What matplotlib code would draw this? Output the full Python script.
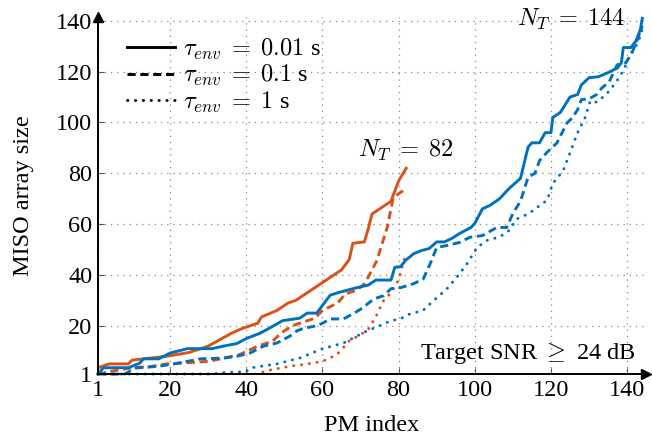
import matplotlib
matplotlib.use('Agg')
import matplotlib.pyplot as plt

plt.rcParams['font.family'] = ['Liberation Serif', 'DejaVu Serif']
plt.rcParams['mathtext.fontset'] = 'cm'
ORANGE = '#D95319'; BLUE = '#0072BD'
FS = 17.5

# ── data ──────────────────────────────────────────────────────
# N_T = 82 (orange)
o1_x = [1, 4, 9, 10, 13, 19, 25, 30, 36, 39, 43, 44, 48, 51, 53, 56, 59, 62, 65, 67, 68, 71, 72, 73, 78, 80, 82]
o1_y = [3.5, 5, 5, 6.5, 7, 8, 9.5, 12, 17, 19, 21, 23.5, 26, 29, 30, 33, 36, 39, 42, 46, 52.5, 53, 58, 64, 69, 77, 82]
o2_x = [1, 4, 10, 15, 19, 25, 30, 38, 43, 47, 49, 52, 58, 60, 64, 66, 69, 71, 72.5, 74.3, 77, 78.6, 81, 82]
o2_y = [1, 2, 3.5, 4, 5, 5.5, 6, 8.5, 12, 14, 17, 20, 23, 26, 29, 32.5, 34, 36.5, 40.5, 45.7, 58.7, 70.5, 73, 74.5]
o3_x = [1, 43, 45, 49, 52, 56, 60, 62, 64, 67, 70, 72, 74, 76, 78, 80, 82]
o3_y = [1, 1, 2.2, 3.4, 4.2, 5, 6, 7.3, 9, 14, 16.5, 18.5, 23.5, 29.8, 33, 38, 49]

# N_T = 144 (blue)
b1_x = [1, 2.5, 9, 12, 13, 17, 20, 24.5, 31, 34, 37.5, 40, 43.5, 46, 49.5, 54, 56, 58.5, 60, 62, 64, 66.5,
        69, 72, 74, 78, 79, 80.5, 82, 84, 86, 88, 90, 92, 94, 96, 99, 100, 102, 104, 106.5, 109, 112, 114,
        115, 117, 118.5, 120, 120.5, 122.5, 125, 127, 128, 130, 132.5, 135, 137.5, 138.5, 139, 141, 142.3, 143.5, 144]
b1_y = [1, 3.5, 3.5, 5.3, 7, 7, 9.3, 11, 11, 12, 13, 15, 17, 19, 22, 23, 25, 25, 28, 32, 33, 34,
        35, 36, 38, 38, 43, 43.3, 46, 48.4, 49.6, 50.4, 53, 53, 54.4, 56.3, 58.7, 60.3, 66, 67.4, 70, 74, 78, 90.3,
        92, 92, 96, 96, 102, 104, 110, 111, 114.8, 117.6, 118, 119.6, 121.5, 123.5, 129.5, 129.5, 132, 136.6, 141]
b2_x = [1, 8, 11, 16.5, 21, 28, 34, 37.5, 41, 44.5, 48, 51.5, 53.3, 55, 58.5, 60, 62, 65.5, 68, 70.5, 73.5,
        76, 78, 80.5, 84, 86.5, 88.3, 90, 92.7, 96, 98.7, 102, 105.8, 108.4, 110, 112, 114, 115.8, 117, 119,
        121.6, 124.2, 125.6, 127, 128, 130, 132, 133.4, 135.3, 137.4, 139.7, 141.3, 143, 144]
b2_y = [1, 1, 3.4, 4, 5, 7, 7.3, 8, 9.3, 12, 13.2, 16, 18, 19, 20, 21, 22.7, 22.7, 24.7, 27, 30.6,
        31.8, 34.6, 35, 36.6, 38.5, 44.5, 50.8, 51.6, 52.8, 54.8, 55.5, 58.7, 58.7, 64.2, 69, 78.5, 80, 85, 88.3,
        92, 99.8, 101.8, 105, 109, 109.3, 111, 113.6, 116, 122.7, 123.5, 127.5, 133.8, 138]
b3_x = [1, 31, 33, 40, 41, 48, 54, 60, 65.5, 71.7, 75, 78, 80.4, 83, 86.4, 88.3, 90, 92.7, 95.6, 98, 100.6,
        103.2, 106.6, 109, 111, 114, 119, 120.5, 123.2, 125, 127, 129, 130.3, 132, 134.5, 137, 139.2, 140.5,
        142.3, 143.5, 144]
b3_y = [1, 1, 1.5, 2, 3.4, 5, 7.3, 11, 13.2, 18, 20, 22, 22.7, 24.7, 26, 28.7, 31, 34.6, 39.7, 44.5, 50.8,
        53.6, 55, 57.5, 62, 64, 69.4, 76, 81, 88, 96, 102, 108.5, 108, 111, 115.6, 120.8, 126,
        130, 134, 137]

ticks = [1, 20, 40, 60, 80, 100, 120, 140]
tau_labels = [r'$\tau_{env}\;=\;0.01$ s', r'$\tau_{env}\;=\;0.1$ s', r'$\tau_{env}\;=\;1$ s']

SOLID = '-'; DASH = (0, (2.8, 1.6)); DOT = (0, (0.1, 2.6))
LW = 2.1

fig = plt.figure(figsize=(6.52, 4.36), dpi=100, facecolor='white')
ax = fig.add_axes([0.150, 0.142, 0.841, 0.819])

styles = [SOLID, DASH, DOT]
for (xs, ys), ls in zip([(o1_x, o1_y), (o2_x, o2_y), (o3_x, o3_y)], styles):
    ax.plot(xs, ys, color=ORANGE, lw=LW, ls=ls, dash_capstyle='round' if ls is DOT else 'butt')
for (xs, ys), ls in zip([(b1_x, b1_y), (b2_x, b2_y), (b3_x, b3_y)], styles):
    ax.plot(xs, ys, color=BLUE, lw=LW, ls=ls, clip_on=False,
            dash_capstyle='round' if ls is DOT else 'butt')

# legend entries in black
for ls, lab in zip(styles, tau_labels):
    ax.plot([], [], color='black', lw=LW, ls=ls, label=lab,
            dash_capstyle='round' if ls is DOT else 'butt')
ax.legend(loc='upper left', bbox_to_anchor=(0.027, 0.985), frameon=False, fontsize=FS,
          handlelength=1.95, handletextpad=0.35, labelspacing=0.05, borderaxespad=0.2)

ax.set_xlim(1, 145)
ax.set_ylim(1, 141.5)
ax.set_xticks(ticks)
ax.set_yticks(ticks)
ax.tick_params(direction='in', length=4, width=0.8, labelsize=FS, color='#555555', pad=4)
ax.grid(True, ls=(0, (1, 4)), color='#888888', lw=0.9)
ax.spines['top'].set_visible(False); ax.spines['right'].set_visible(False)
ax.spines['left'].set_linewidth(1.4); ax.spines['bottom'].set_linewidth(1.4)
ax.plot(1, 0, '>k', ms=7, transform=ax.transAxes, clip_on=False)
ax.plot(0, 1, '^k', ms=7, transform=ax.transAxes, clip_on=False)

ax.set_xlabel('PM index', fontsize=FS, labelpad=10)
ax.set_ylabel('MISO array size', fontsize=FS, labelpad=16)

ax.text(81.8, 89, r'$N_T\;=\;82$', ha='center', va='center', fontsize=FS)
ax.text(139.4, 140.5, r'$N_T\;=\;144$', ha='right', va='center', fontsize=FS)
ax.text(142.3, 9.3, r'Target SNR $\geq$ 24 dB', ha='right', va='center', fontsize=FS)

fig.savefig('out.png', dpi=100, facecolor='white')
